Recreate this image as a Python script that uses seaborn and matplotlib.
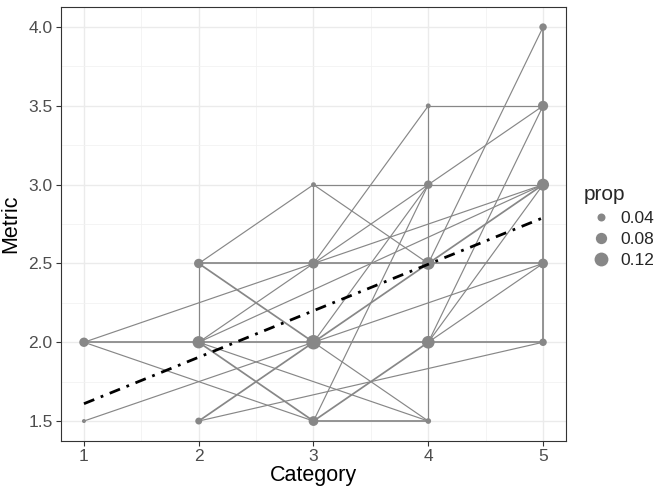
import numpy as np
import pandas as pd
import matplotlib
matplotlib.use("Agg")
import matplotlib.pyplot as plt
import seaborn as sns
from matplotlib.lines import Line2D

# POINTS (category, metric, proportion)
pt_x = [1, 1, 2, 2, 2, 3, 3, 3, 3, 4, 4, 4, 4, 4, 5, 5, 5, 5, 5]
pt_y = [2.0, 1.5, 2.5, 2.0, 1.5, 3.0, 2.5, 2.0, 1.5, 3.5, 3.0, 2.5, 2.0, 1.5, 4.0, 3.5, 3.0, 2.5, 2.0]
pt_prop = [0.055, 0.01, 0.055, 0.095, 0.03, 0.015, 0.065, 0.13, 0.06,
           0.015, 0.045, 0.10, 0.10, 0.02, 0.035, 0.065, 0.09, 0.06, 0.035]

# LINE SEGMENTS between observations
seg_x0 = [1, 2, 3, 4, 3, 2, 3, 4, 5,
          1, 1, 1, 2, 2, 2, 2, 2, 2, 2, 2,
          3, 3, 3, 3, 3, 3, 3, 3, 3, 3,
          4, 4, 4, 4, 4, 4]
seg_y0 = [2.0, 2.5, 3.0, 3.5, 1.5, 2.0, 2.0, 1.5, 2.0,
          2.0, 2.0, 1.5, 2.5, 2.5, 2.0, 2.0, 2.0, 2.0, 1.5, 1.5,
          3.0, 2.5, 2.5, 2.5, 2.0, 2.0, 2.0, 2.0, 1.5, 1.5,
          3.0, 2.5, 2.5, 2.0, 2.0, 2.0]
seg_x1 = [5, 5, 5, 5, 4, 2, 3, 4, 5,
          3, 3, 3, 3, 3, 3, 5, 3, 4, 3, 5,
          4, 4, 4, 5, 4, 4, 5, 4, 4, 4,
          5, 5, 5, 5, 5, 5]
seg_y1 = [2.0, 2.5, 3.0, 3.5, 1.5, 2.5, 3.0, 3.5, 4.0,
          2.5, 1.5, 2.0, 3.0, 2.0, 2.5, 3.0, 1.5, 1.5, 2.0, 2.0,
          2.5, 3.5, 3.0, 3.0, 3.0, 2.5, 2.5, 1.5, 3.0, 2.0,
          3.5, 4.0, 3.0, 3.5, 3.0, 2.5]
seg_n = [2, 2, 1, 1, 2, 1, 1, 1, 2,
         1, 1, 1, 1, 2, 1, 1, 2, 1, 2, 1,
         1, 1, 1, 1, 1, 2, 1, 1, 1, 2,
         1, 1, 2, 1, 1, 1]

# FITTED TREND
reg_x = [1, 5]
reg_y = [1.61, 2.79]

legend_props = [0.04, 0.08, 0.12]

rows = []
for i in range(len(seg_x0)):
    rows.append({"seg": i, "x": seg_x0[i], "y": seg_y0[i], "n": seg_n[i]})
    rows.append({"seg": i, "x": seg_x1[i], "y": seg_y1[i], "n": seg_n[i]})
seg_df = pd.DataFrame(rows)
pt_df = pd.DataFrame({"x": pt_x, "y": pt_y, "prop": pt_prop})

sns.set_style("white")
plt.rcParams["font.family"] = ["Liberation Sans", "DejaVu Sans"]

gray = "#878787"
fig = plt.figure(figsize=(6.63, 4.93), dpi=100)
ax = fig.add_axes([0.092, 0.106, 0.7617, 0.879])

sns.lineplot(data=seg_df, x="x", y="y", units="seg", estimator=None, sort=False,
             size="n", sizes={1: 0.85, 2: 1.25}, color=gray, legend=False, ax=ax, zorder=2)

smax = 116
sns.scatterplot(data=pt_df, x="x", y="y", size="prop", sizes=(0, smax), size_norm=(0, 0.14),
                color=gray, linewidth=0, legend=False, ax=ax, zorder=3)

sns.lineplot(x=reg_x, y=reg_y, color="black", linewidth=2.0,
             linestyle=(0, (4, 2.5, 1, 2.5)), ax=ax, zorder=4)

ax.set_xlim(0.8, 5.2)
ax.set_ylim(1.375, 4.125)
ax.set_xticks([1, 2, 3, 4, 5])
ax.set_yticks([1.5, 2.0, 2.5, 3.0, 3.5, 4.0])
ax.set_yticklabels(["1.5", "2.0", "2.5", "3.0", "3.5", "4.0"])
ax.set_xticks([1.5, 2.5, 3.5, 4.5], minor=True)
ax.set_yticks([1.75, 2.25, 2.75, 3.25, 3.75], minor=True)
ax.grid(True, which="major", color="#EBEBEB", linewidth=1.0)
ax.grid(True, which="minor", color="#F2F2F2", linewidth=0.6)
ax.set_axisbelow(True)
for s in ax.spines.values():
    s.set_color("#333333")
    s.set_linewidth(0.8)
ax.tick_params(axis="both", which="major", length=3.5, width=0.8, color="#333333",
               labelsize=12.5, labelcolor="#4D4D4D", pad=2.5, bottom=True, left=True)
ax.tick_params(axis="both", which="minor", length=0)
ax.set_xlabel("Category", fontsize=15.5, color="black", labelpad=1)
ax.set_ylabel("Metric", fontsize=15.5, color="black", labelpad=5)

handles = [Line2D([], [], marker="o", linestyle="", color=gray, markeredgewidth=0,
                  markersize=np.sqrt(smax * p / 0.14)) for p in legend_props]
fig.legend(handles, [f"{p:.2f}" for p in legend_props], title="prop", loc="center left",
           bbox_to_anchor=(0.862, 0.54), frameon=False, fontsize=12.5, title_fontsize=15,
           handletextpad=0.1, labelspacing=0.35, alignment="left", borderaxespad=0.3)

fig.savefig("out.png", dpi=100)
